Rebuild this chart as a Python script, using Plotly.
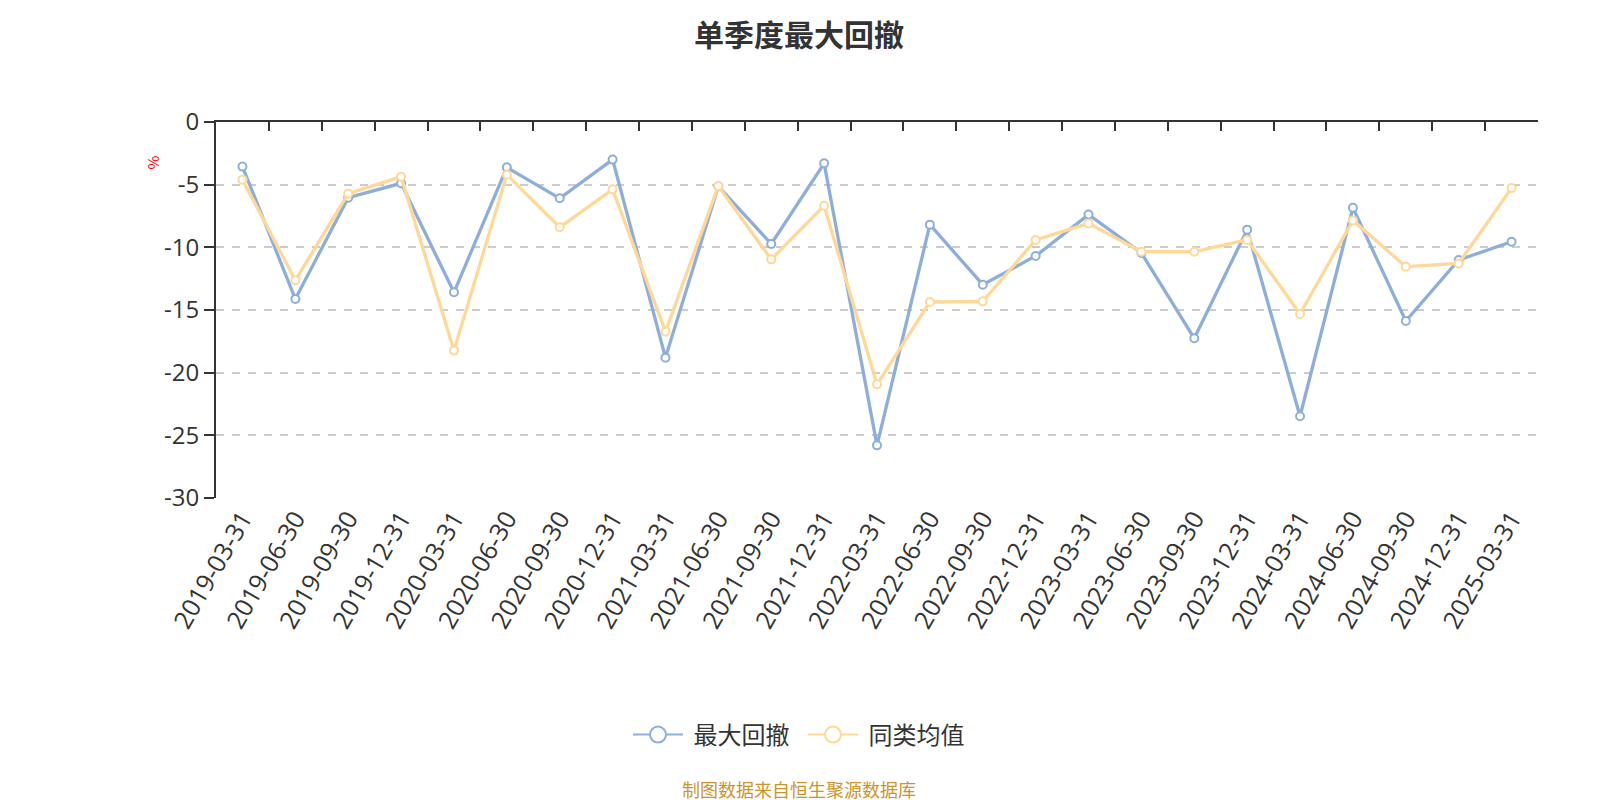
import plotly.graph_objects as go

dates = ["2019-03-31", "2019-06-30", "2019-09-30", "2019-12-31",
         "2020-03-31", "2020-06-30", "2020-09-30", "2020-12-31",
         "2021-03-31", "2021-06-30", "2021-09-30", "2021-12-31",
         "2022-03-31", "2022-06-30", "2022-09-30", "2022-12-31",
         "2023-03-31", "2023-06-30", "2023-09-30", "2023-12-31",
         "2024-03-31", "2024-06-30", "2024-09-30", "2024-12-31",
         "2025-03-31"]
max_drawdown = [-3.56, -14.12, -6.04, -4.89, -13.59, -3.62, -6.09, -3.00,
                -18.80, -5.13, -9.73, -3.30, -25.80, -8.19, -12.98, -10.69,
                -7.39, -10.45, -17.26, -8.59, -23.48, -6.84, -15.88, -11.01,
                -9.55]
peer_avg = [-4.60, -12.63, -5.72, -4.36, -18.24, -4.20, -8.40, -5.37,
            -16.73, -5.10, -10.96, -6.68, -20.93, -14.36, -14.31, -9.41,
            -8.09, -10.35, -10.35, -9.41, -15.32, -7.85, -11.54, -11.28,
            -5.27]
series_names = ["最大回撤", "同类均值"]
colors = ["#8DAEDC", "#FFD898"]
y_ticks = [0, -5, -10, -15, -20, -25, -30]

FONT = "Noto Sans CJK SC, Noto Sans, sans-serif"
NUMFONT = "Open Sans, Noto Sans CJK SC, sans-serif"

L, R, T, B = 208, 1530, 114, 490
PW, PH = R - L, B - T

fig = go.Figure()
for i, (name, vals) in enumerate(zip(series_names, [max_drawdown, peer_avg])):
    fig.add_trace(go.Scatter(
        x=dates, y=vals, name=name, mode="lines+markers",
        xaxis="x" if i == 0 else "x2",
        line=dict(color=colors[i], width=3.3),
        marker=dict(symbol="circle", size=8, color="white",
                    line=dict(color=colors[i], width=2)),
        legendgroup=name, showlegend=False,
    ))
# legend entries with larger symbols
for i, name in enumerate(series_names):
    fig.add_trace(go.Scatter(
        x=[None], y=[None], name=" " + name, mode="lines+markers",
        line=dict(color=colors[i], width=2),
        marker=dict(symbol="circle", size=20, color="white",
                    line=dict(color=colors[i], width=2)),
        legendgroup=name, showlegend=True,
    ))

fig.update_layout(
    width=1600, height=800,
    margin=dict(l=L, r=1600 - R, t=T, b=800 - B),
    paper_bgcolor="white", plot_bgcolor="white",
    font=dict(family=FONT, color="#333333"),
    xaxis=dict(type="category", categoryorder="array", categoryarray=dates,
               range=[-0.5, len(dates) - 0.5],
               showline=False, showgrid=False, zeroline=False, ticks="",
               tickangle=-60, tickfont=dict(size=25, color="#333333", family=NUMFONT),
               ticklabelstandoff=0),
    xaxis2=dict(type="category", overlaying="x", side="top", matches="x",
                categoryorder="array", categoryarray=dates,
                showline=True, linecolor="#333333", linewidth=2,
                ticks="inside", ticklen=9, tickwidth=2, tickcolor="#333333",
                tickson="boundaries", showticklabels=False,
                showgrid=False, zeroline=False),
    yaxis=dict(range=[-30, 0], tickvals=y_ticks, ticktext=[str(v) for v in y_ticks],
               showline=True, linecolor="#333333", linewidth=2,
               ticks="outside", ticklen=10, tickwidth=2, tickcolor="#333333",
               showgrid=True, gridcolor="#CCCCCC", gridwidth=1.5,
               griddash="8px,8px", zeroline=False,
               tickfont=dict(size=24, color="#333333", family=NUMFONT)),
    legend=dict(orientation="h", x=(795 - L) / PW, xanchor="center",
                y=-(727 - B) / PH, yanchor="middle",
                font=dict(size=24, color="#333333", family=FONT),
                itemwidth=50, entrywidth=110, entrywidthmode="pixels",
                bgcolor="rgba(0,0,0,0)"),
    annotations=[
        dict(text="<b>单季度最大回撤</b>", xref="paper", yref="paper",
             x=(791 - L) / PW, y=(B - 1) / PH,
             xanchor="center", yanchor="top", showarrow=False,
             font=dict(size=30, color="#333333", family=FONT)),
        dict(text="%", xref="paper", yref="paper",
             x=(144.7 - L) / PW, y=(B - 154.7) / PH,
             xanchor="center", yanchor="middle", showarrow=False,
             textangle=-90, font=dict(size=15, color="red", family=FONT)),
        dict(text="制图数据来自恒生聚源数据库", xref="paper", yref="paper",
             x=(791 - L) / PW, y=-(781 - B) / PH, xanchor="center", yanchor="middle",
             showarrow=False, font=dict(size=18, color="#C9962B", family=FONT)),
    ],
)

fig.write_html("out.html")
